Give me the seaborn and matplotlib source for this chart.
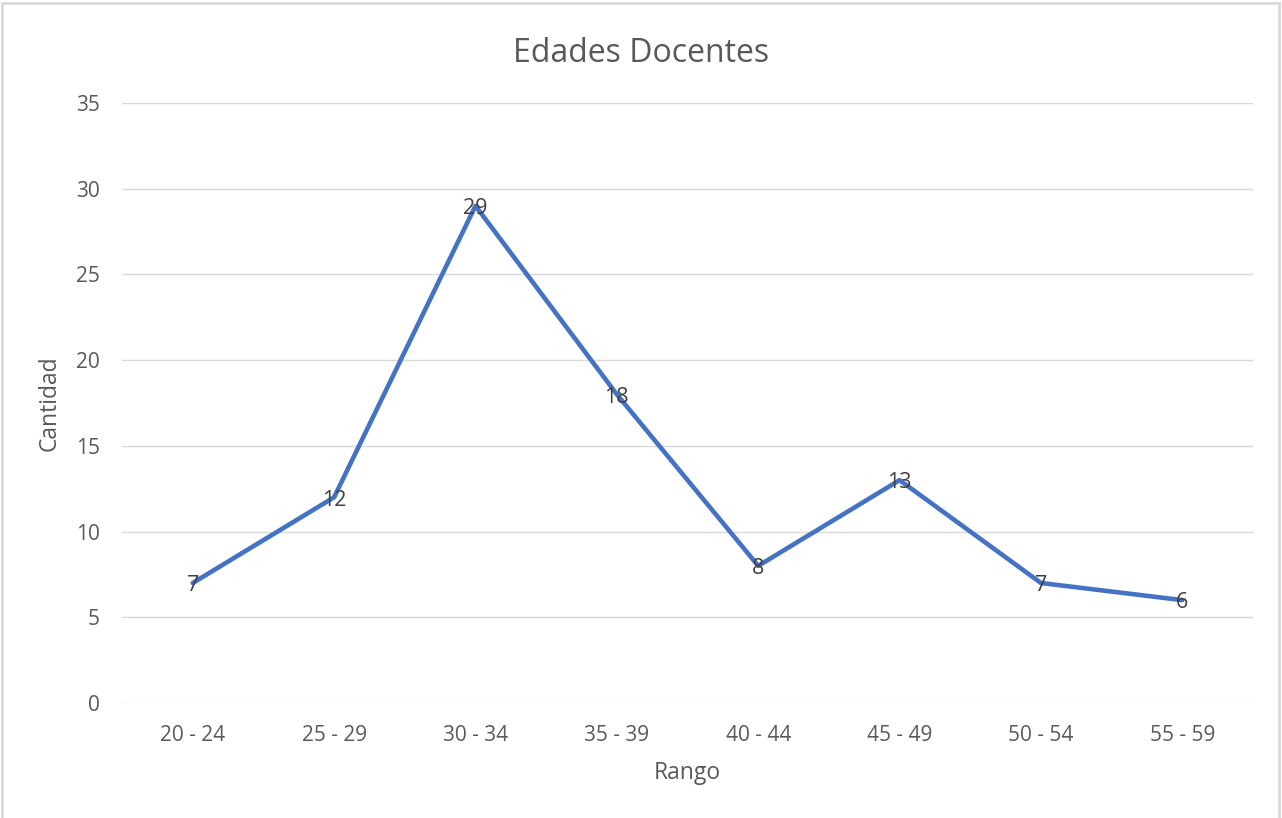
import matplotlib
matplotlib.use('Agg')
import matplotlib.pyplot as plt
import seaborn as sns
import pandas as pd
from matplotlib.patches import Rectangle

rangos = ['20 - 24', '25 - 29', '30 - 34', '35 - 39', '40 - 44', '45 - 49', '50 - 54', '55 - 59']
cantidad = [7, 12, 29, 18, 8, 13, 7, 6]

sns.set_style('white')
plt.rcParams['font.family'] = ['Open Sans', 'DejaVu Sans']

df = pd.DataFrame({'Rango': rangos, 'Cantidad': cantidad})

fig = plt.figure(figsize=(12.82, 8.18), dpi=100)
ax = fig.add_axes([0.0952, 0.1406, 0.8822, 0.7335])

sns.lineplot(data=df, x='Rango', y='Cantidad', color='#4472C4', linewidth=3.3, ax=ax, sort=False)

# etiquetas de datos sobre cada punto
for i, v in enumerate(cantidad):
    ax.annotate(str(v), (i, v), xytext=(0, -2), textcoords='offset points',
                ha='center', va='center', fontsize=15.5, color='#404040')

ax.set_xlim(-0.5, len(rangos) - 0.5)
ax.set_ylim(0, 35)
ax.set_yticks(range(0, 36, 5))
ax.yaxis.grid(True, color='#D9D9D9', linewidth=1)
ax.xaxis.grid(False)
for s in ax.spines.values():
    s.set_visible(False)
ax.tick_params(axis='both', colors='#595959', labelsize=15, length=0)
ax.tick_params(axis='y', pad=16)
ax.tick_params(axis='x', pad=16)
ax.set_xlabel('Rango', fontsize=16.5, color='#595959', labelpad=11)
ax.set_ylabel('Cantidad', fontsize=16.5, color='#595959', labelpad=10)
fig.text(0.5, 0.935, 'Edades Docentes', ha='center', va='center', fontsize=23, color='#595959')

fig.patches.append(Rectangle((0.0015, -0.01), 0.996, 1.0065, transform=fig.transFigure,
                             fill=False, edgecolor='#D9D9D9', linewidth=2))

fig.savefig('out.png', dpi=100)
